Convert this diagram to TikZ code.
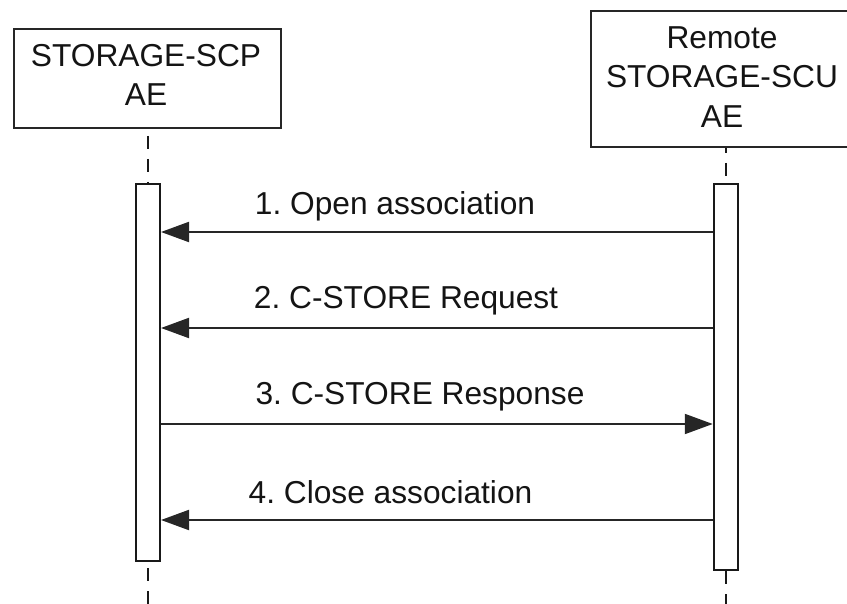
\documentclass[tikz,border=0pt]{standalone}
\usepackage{fontspec}
\setmainfont{Liberation Sans}
\usetikzlibrary{arrows.meta}
\frenchspacing
\begin{document}
\begin{tikzpicture}[x=1pt,y=-1pt,
  txt/.style={font=\fontsize{31.7}{39}\selectfont, text=black!92, inner sep=0pt, anchor=base},
  actor/.style={draw=black!85, line width=2pt, inner sep=0pt, fill=white},
  bar/.style={draw=black!90, line width=2pt, fill=white, inner sep=0pt},
  life/.style={draw=black!90, line width=2pt, dash pattern=on 13pt off 10pt},
  msg/.style={draw=black!85, line width=2pt, -{Triangle[length=28pt,width=20pt]}},
]
\useasboundingbox (0,0) rectangle (847,604);

% Participants
\node[actor, minimum width=267pt, minimum height=99pt] (scp) at (147.5,78.5) {};
\node[txt] (scpl1) at (146,67) {STORAGE-SCP};
\node[txt] (scpl2) at (146,106) {AE};

\node[actor, minimum width=264pt, minimum height=136pt] (scu) at (723,79) {};
\node[txt] (scul1) at (722,49) {Remote};
\node[txt] (scul2) at (722,88) {STORAGE-SCU};
\node[txt] (scul3) at (722,128) {AE};

% Activation bars
\node[bar, minimum width=24pt, minimum height=377pt] (scpbar) at (148,372.5) {};
\node[bar, minimum width=24.5pt, minimum height=386pt] (scubar) at (726,377) {};

% Lifelines
\coordinate (scpend) at (148,604);
\coordinate (scuend) at (726,604);
\draw[life, dash phase=16pt] (scpbar.north |- scp.south) -- (scpbar.north);
\draw[life, dash phase=8pt] (scubar.north |- scu.south) -- (scubar.north);
\draw[life, dash phase=17pt] (scpbar.south) -- (scpend);
\draw[life] (scubar.south) -- (scuend);

% Messages
\coordinate (m1) at (0,232);
\coordinate (m2) at (0,328);
\coordinate (m3) at (0,424);
\coordinate (m4) at (0,520);
\draw[msg] (scubar.west |- m1) -- (scpbar.east |- m1);
\draw[msg] (scubar.west |- m2) -- (scpbar.east |- m2);
\draw[msg] (scpbar.east |- m3) -- (scubar.west |- m3);
\draw[msg] (scubar.west |- m4) -- (scpbar.east |- m4);

\node[txt] (lab1) at (395,215) {1. Open association};
\node[txt] (lab2) at (406,309) {2. C-STORE Request};
\node[txt] (lab3) at (420,404) {3. C-STORE Response};
\node[txt] (lab4) at (390.5,503) {4. Close association};
\end{tikzpicture}
\end{document}
